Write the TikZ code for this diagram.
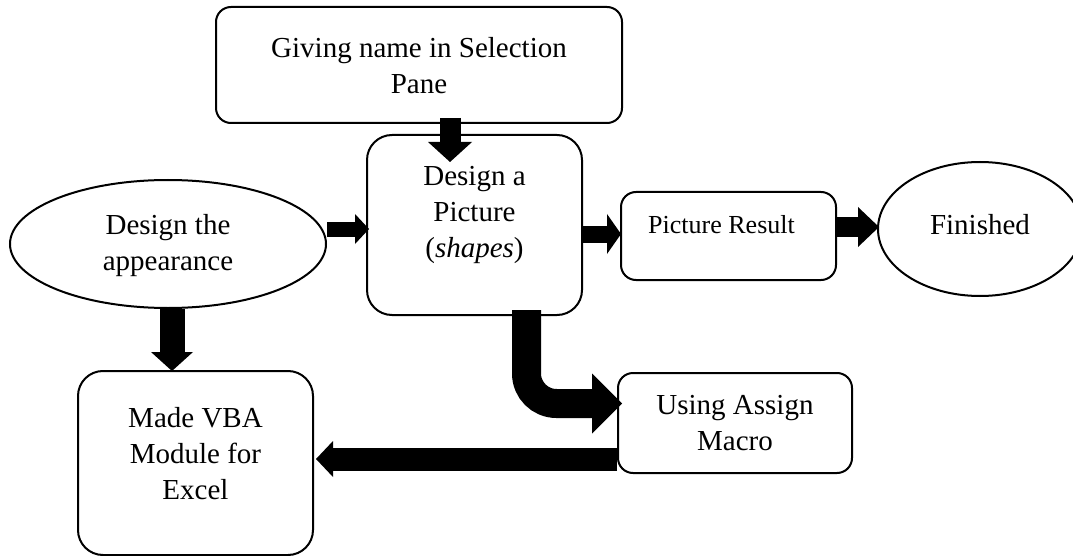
\documentclass[tikz,border=0pt]{standalone}
\usepackage{fontspec}
\setmainfont{Liberation Serif}
\usetikzlibrary{arrows.meta,shapes.geometric}
\begin{document}
\begin{tikzpicture}[x=1pt,y=-1pt,
  box/.style={draw, line width=2pt, rounded corners=#1pt, inner sep=0pt},
  oval/.style={draw, ellipse, line width=2pt, inner sep=0pt},
  txt/.style={font=\fontsize{29}{36}\selectfont, align=center, inner sep=0pt},
  smalltxt/.style={font=\fontsize{26}{32}\selectfont, align=center, inner sep=0pt},
  blk/.style n args={3}{line width=#1pt, line cap=butt,
    -{Triangle[width=#2pt, length=#3pt, line width=0pt]}}
]
\useasboundingbox (0,0) rectangle (1073,556);

\node[box=15, minimum width=406, minimum height=116,
  label={[txt, yshift=-1pt]center:Giving name in Selection\\Pane}] (top) at (419,65) {};
\node[box=25, minimum width=215, minimum height=180,
  label={[txt, yshift=10.5pt]center:Design a\\Picture\\(\textit{shapes})}] (design) at (474.5,225) {};
\node[oval, minimum width=316, minimum height=128,
  label={[txt, yshift=-2pt]center:Design the\\appearance}] (appear) at (168,244) {};
\node[box=25, minimum width=235, minimum height=184,
  label={[txt, yshift=9pt]center:Made VBA\\Module for\\Excel}] (vba) at (195.5,463) {};
\node[box=15, minimum width=234, minimum height=100,
  label={[txt]center:Using Assign\\Macro}] (using) at (735,423) {};
\node[box=15, minimum width=215, minimum height=88,
  label={[smalltxt, xshift=-7pt, yshift=11.5pt]center:Picture Result}] (result) at (728.5,236) {};
\node[oval, minimum width=204, minimum height=134,
  label={[txt, yshift=4.5pt]center:Finished}] (finished) at (980,229) {};

\draw[blk={21}{44}{20}] ([xshift=31pt,yshift=6pt]top.south) -- ([xshift=-24.5pt,yshift=-28pt]design.north);
\draw[blk={15}{30}{14}] ([yshift=15pt]appear.east) -- ([xshift=3pt,yshift=-4pt]design.west);
\draw[blk={25}{42}{19}] ([xshift=4pt]appear.south) -- ([xshift=-23.5pt,yshift=-1pt]vba.north);
\draw[blk={17}{40}{14}] ([yshift=-9pt]design.east) -- ([xshift=1pt,yshift=2pt]result.west);
\draw[blk={20}{40}{21}] ([yshift=9pt]result.east) -- ([xshift=2pt,yshift=2pt]finished.west);
\draw[blk={29}{60}{30}, rounded corners=30pt] ([xshift=52pt,yshift=6pt]design.south) |- ([xshift=5pt,yshift=19.5pt]using.west);
\draw[blk={23}{36}{17}] ([yshift=-36pt]using.west) -- ([xshift=2pt,yshift=4pt]vba.east);
\end{tikzpicture}
\end{document}
